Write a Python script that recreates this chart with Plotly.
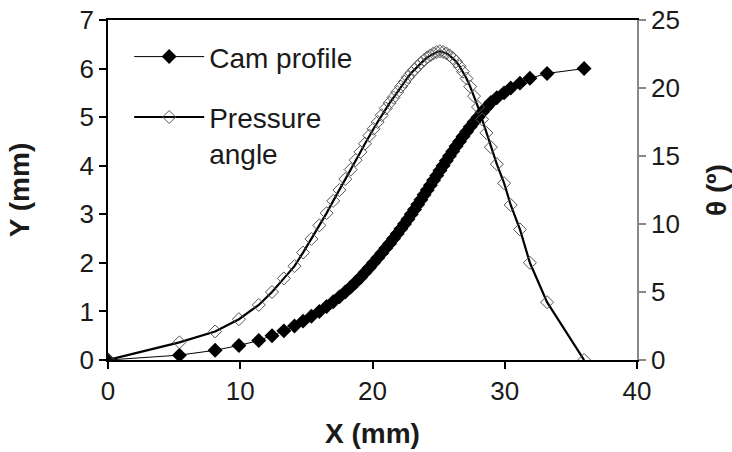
import plotly.graph_objects as go

# Cam follower displacement Y (mm) sampled every 0.1 mm, with matching X (mm)
cam_y = [0.0, 0.1, 0.2, 0.3, 0.4, 0.5, 0.6, 0.7, 0.8, 0.9,
         1.0, 1.1, 1.2, 1.3, 1.4, 1.5, 1.6, 1.7, 1.8, 1.9,
         2.0, 2.1, 2.2, 2.3, 2.4, 2.5, 2.6, 2.7, 2.8, 2.9,
         3.0, 3.1, 3.2, 3.3, 3.4, 3.5, 3.6, 3.7, 3.8, 3.9,
         4.0, 4.1, 4.2, 4.3, 4.4, 4.5, 4.6, 4.7, 4.8, 4.9,
         5.0, 5.1, 5.2, 5.3, 5.4, 5.5, 5.6, 5.7, 5.8, 5.9,
         6.0]

x_mm = [0.0, 5.4, 8.1, 9.9, 11.4, 12.4, 13.3, 14.1, 14.75, 15.38,
        15.98, 16.53, 17.03, 17.5, 17.94, 18.35, 18.73, 19.09, 19.43, 19.76,
        20.08, 20.39, 20.7, 21.0, 21.3, 21.59, 21.87, 22.15, 22.42, 22.68,
        22.93, 23.18, 23.42, 23.66, 23.9, 24.14, 24.38, 24.62, 24.86, 25.1,
        25.34, 25.58, 25.82, 26.07, 26.32, 26.58, 26.84, 27.11, 27.39, 27.68,
        27.98, 28.29, 28.61, 28.95, 29.4, 29.95, 30.45, 31.15, 31.9, 33.2,
        36.0]

# Pressure angle (degrees) at the same X positions
theta_deg = [0.0, 1.3, 2.1, 3.0, 4.05, 5.0, 6.0, 6.9, 7.9, 8.9,
             9.9, 10.8, 11.7, 12.5, 13.3, 14.0, 14.7, 15.3, 15.9, 16.5,
             17.0, 17.5, 18.0, 18.5, 18.9, 19.3, 19.7, 20.1, 20.45, 20.8,
             21.1, 21.35, 21.6, 21.85, 22.05, 22.25, 22.4, 22.55, 22.65, 22.7,
             22.65, 22.55, 22.4, 22.2, 21.95, 21.6, 21.2, 20.7, 20.1, 19.4,
             18.6, 17.7, 16.7, 15.65, 14.4, 13.0, 11.4, 9.6, 7.15, 4.25,
             0.0]

x_ticks = [0, 10, 20, 30, 40]
y_ticks = [0, 1, 2, 3, 4, 5, 6, 7]
theta_ticks = [0, 5, 10, 15, 20, 25]

FONT = "Liberation Sans, Arial, sans-serif"
TXT = "#1a1a1a"
TICK = dict(family=FONT, size=26, color=TXT)
TITLE = dict(family=FONT, size=28, color=TXT)

fig = go.Figure()

fig.add_trace(go.Scatter(
    x=x_mm, y=cam_y, name="Cam profile", mode="lines+markers",
    line=dict(color="black", width=1),
    marker=dict(symbol="diamond", size=11.5, color="black",
                line=dict(color="black", width=0)),
    legendgroup="cam", yaxis="y",
))

fig.add_trace(go.Scatter(
    x=x_mm, y=theta_deg, name="Pressure<br>angle", mode="lines+markers",
    line=dict(color="black", width=2.2),
    marker=dict(symbol="diamond-open", size=10, color="#555555",
                line=dict(color="#555555", width=1)),
    legendgroup="pa", yaxis="y2",
))

fig.update_layout(
    width=732, height=452,
    margin=dict(l=108, r=95, t=20, b=92),
    paper_bgcolor="white", plot_bgcolor="white",
    font=dict(family=FONT, size=26, color=TXT),
    showlegend=True,
    legend=dict(
        x=0.04, y=0.965, xanchor="left", yanchor="top",
        bgcolor="rgba(0,0,0,0)", borderwidth=0,
        font=dict(family=FONT, size=28, color=TXT),
        itemwidth=70, valign="top", tracegroupgap=21,
    ),
    xaxis=dict(
        range=[0, 40], tickvals=x_ticks, showgrid=False, zeroline=False,
        showline=True, linecolor="black", linewidth=1.5, mirror=True,
        ticks="outside", ticklen=7, tickcolor="black", tickwidth=1.5,
        tickfont=TICK, automargin=False,
        title=dict(text="<b>X (mm)</b>", standoff=18, font=TITLE),
    ),
    yaxis=dict(
        range=[0, 7], tickvals=y_ticks, showgrid=False, zeroline=False,
        showline=True, linecolor="black", linewidth=1.5,
        ticks="outside", ticklen=7, tickcolor="black", tickwidth=1.5,
        tickfont=TICK, automargin=False,
        title=dict(text="<b>Y (mm)</b>", standoff=42, font=TITLE),
    ),
    yaxis2=dict(
        range=[0, 25], tickvals=theta_ticks, overlaying="y", side="right",
        showgrid=False, zeroline=False,
        showline=True, linecolor="#888888", linewidth=1.5,
        ticks="outside", ticklen=7, tickcolor="#888888", tickwidth=1.5,
        tickfont=TICK, automargin=False,
        title=dict(text="<b>θ (º)</b>", standoff=30, font=TITLE),
    ),
)

fig.write_html("out.html")
